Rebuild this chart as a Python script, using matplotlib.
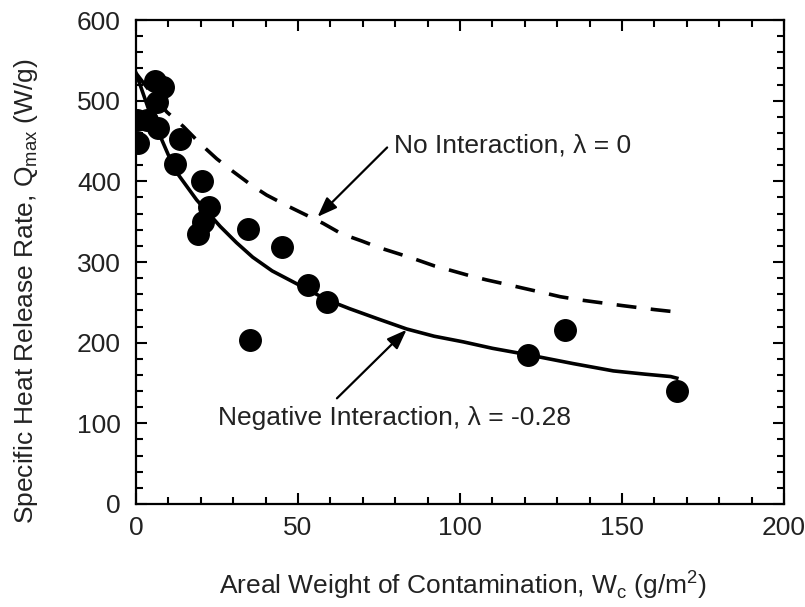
import matplotlib
matplotlib.use("Agg")
import matplotlib.pyplot as plt
from matplotlib.ticker import MultipleLocator

# Measured specimens: areal weight of contamination (g/m^2) vs peak specific HRR (W/g)
wc_data = [0.2, 0.7, 3.3, 5.9, 8.4, 6.4, 6.8, 13.6, 12.0, 20.3, 22.5,
           19.2, 20.8, 34.5, 45.0, 53.0, 59.0, 35.2, 121.1, 132.4, 166.9]
q_data = [476, 447, 476, 525, 517, 498, 466, 453, 422, 401, 368,
          335, 349, 341, 319, 271, 250, 203, 185, 216, 140]

# Model curve, negative interaction (lambda = -0.28)
wc_neg = [0, 4, 8, 12, 18.7, 26, 31, 36, 42, 49.6, 59, 66, 75, 83.5, 92,
          101, 110, 121, 135, 147.3, 157, 165, 166.9]
q_neg = [534, 488, 451, 414, 377, 344, 324, 306, 289, 273, 253, 242, 229, 217, 208,
         201, 193, 185, 174, 165, 161, 158, 156]

# Model curve, no interaction (lambda = 0)
wc_none = [0, 5, 9.5, 14.6, 20, 24.9, 30, 35.7, 40.3, 46.5, 51.6, 57.7, 63.4, 69.7,
           74.9, 81.2, 85.8, 92.2, 96.8, 103, 108, 114.7, 119, 125.6, 130.9,
           137, 150, 160, 166.9]
q_none = [534, 508, 486, 468, 446, 428, 412, 395, 383, 370, 360, 348, 335, 326,
          318, 310, 304, 295, 290, 283, 278, 272, 268, 262, 257, 253, 246, 241, 238]

x_ticks = [0, 50, 100, 150, 200]
y_ticks = [0, 100, 200, 300, 400, 500, 600]

plt.rcParams['font.family'] = ['Liberation Sans', 'DejaVu Sans']
FS = 19
TXT = '#222222'

fig = plt.figure(figsize=(8.05, 6.07), dpi=100)
ax = fig.add_axes([0.169, 0.1697, 0.805, 0.7973])

ax.plot(wc_none, q_none, color='black', lw=2.6, dashes=(5.5, 4), zorder=2)
ax.plot(wc_neg, q_neg, color='black', lw=2.6, zorder=2)
ax.plot(wc_data, q_data, 'o', color='black', markersize=15.5, zorder=3)

ax.set_xlim(0, 200)
ax.set_ylim(0, 600)
ax.set_xticks(x_ticks)
ax.set_yticks(y_ticks)
ax.xaxis.set_minor_locator(MultipleLocator(10))
ax.yaxis.set_minor_locator(MultipleLocator(20))
ax.tick_params(which='both', direction='in', top=True, right=True, width=1.5,
               colors='black', labelcolor=TXT, labelsize=FS)
ax.tick_params(which='major', length=8)
ax.tick_params(which='minor', length=5)
ax.tick_params(axis='x', which='major', pad=9)
ax.tick_params(axis='y', which='major', pad=11)
for s in ax.spines.values():
    s.set_linewidth(1.6)

ax.set_xlabel('Areal Weight of Contamination, W$_\\mathregular{c}$ (g/m$^\\mathregular{2}$)',
              fontsize=FS, color=TXT)
ax.set_ylabel('Specific Heat Release Rate, Q$_\\mathregular{max}$ (W/g)',
              fontsize=FS, color=TXT)
ax.xaxis.set_label_coords(0.505, -0.133)
ax.yaxis.set_label_coords(-0.148, 0.44)

arrow = dict(arrowstyle='-|>,head_length=1.2,head_width=0.45', color='black',
             lw=1.6, shrinkA=0, shrinkB=0)
ax.annotate('', xy=(56, 356), xytext=(77.5, 442), arrowprops=arrow)
ax.text(79.5, 445, 'No Interaction, λ = 0', fontsize=FS, color=TXT,
        ha='left', va='center')
ax.annotate('', xy=(83.5, 216), xytext=(62, 131), arrowprops=arrow)
ax.text(25.3, 107, 'Negative Interaction, λ = -0.28', fontsize=FS, color=TXT,
        ha='left', va='center')

fig.savefig('out.png', dpi=100)
